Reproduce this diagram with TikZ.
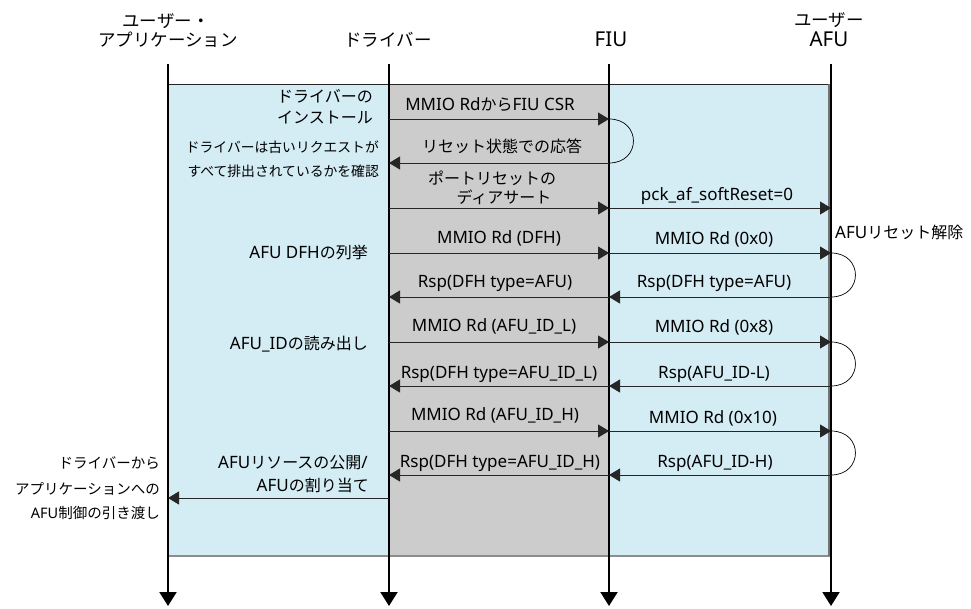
\documentclass[tikz,border=0pt]{standalone}
\usepackage{fontspec}
\setmainfont{Noto Sans}
\newfontfamily\jp{Noto Sans CJK JP}
\newcommand\jpt[1]{{\jp\fontsize{16}{19}\selectfont #1}}
\usetikzlibrary{arrows.meta}
\definecolor{lblue}{HTML}{D4ECF3}
\definecolor{lgray}{HTML}{CCCCCC}
\begin{document}
\begin{tikzpicture}[x=1pt,y=-1pt,
  hdr/.style={font=\fontsize{17.5}{20}\selectfont, anchor=base, inner sep=0},
  lhdr/.style={font=\fontsize{20.5}{23}\selectfont, anchor=base, inner sep=0},
  lbl/.style={font=\fontsize{17}{19}\selectfont, anchor=base, inner sep=0},
  jlbl/.style={font=\jp\fontsize{16}{19}\selectfont, anchor=base, inner sep=0},
  lbll/.style={lbl, anchor=base east},
  jlbll/.style={jlbl, anchor=base east},
  sml/.style={font=\jp\fontsize{13.8}{16}\selectfont, anchor=base east, inner sep=0},
  outl/.style={font=\jp\fontsize{14.5}{17}\selectfont, anchor=base east, inner sep=0},
  msg/.style={draw=black!85, line width=0.9pt, -{Triangle[length=11pt,width=13pt]}},
  life/.style={line width=2pt, -{Triangle[length=14pt,width=17pt]}},
  selfloop/.style={line width=0.7pt, out=0, in=0, looseness=1.9},
]
\useasboundingbox (0,0) rectangle (971,609);
% backgrounds
\fill[lblue] (168,84) rectangle (389,556);
\fill[lgray] (389,84) rectangle (609,556);
\fill[lblue] (609,84) rectangle (830,556);
\draw[line width=0.9pt, black!85] (168,84) -- (830,84);
\draw[line width=1.2pt, black!45] (168,556) -- (830,556);
\draw[line width=1.2pt, black!55] (829,84) -- (829,556);
% headers
\node[hdr] (hU1) at (166,27.5) {\jp ユーザー・};
\node[hdr] (hU2) at (168,46.5) {\jp アプリケーション};
\node[hdr] (hD) at (388,46.5) {\jp ドライバー};
\node[lhdr] (hF) at (611,47) {FIU};
\node[hdr] (hA1) at (829,26.5) {\jp ユーザー};
\node[lhdr] (hA2) at (829,47) {AFU};
% lifeline ends
\coordinate (uT) at (168,64); \coordinate (uB) at (168,606);
\coordinate (dT) at (389,64); \coordinate (dB) at (389,606);
\coordinate (fT) at (609,64); \coordinate (fB) at (609,606);
\coordinate (aT) at (831,64); \coordinate (aB) at (831,606);
\foreach \n/\y in {1/119,2/163,3/208,4/253,5/297,6/342,7/386,8/431,9/475,10/498}{
  \coordinate (u\n) at (168,\y);
  \coordinate (d\n) at (389,\y);
  \coordinate (f\n) at (609,\y);
  \coordinate (a\n) at (831,\y);
}
\draw[life] (uT) -- (uB);
\draw[life] (dT) -- (dB);
\draw[life] (fT) -- (fB);
\draw[life] (aT) -- (aB);
% messages
\draw[msg] (d1) -- (f1);
\draw[msg] (f2) -- (d2);
\draw[msg] (d3) -- (f3);
\draw[msg] (f3) -- (a3);
\draw[msg] (d4) -- (f4);
\draw[msg] (f4) -- (a4);
\draw[msg] (a5) -- (f5);
\draw[msg] (f5) -- (d5);
\draw[msg] (d6) -- (f6);
\draw[msg] (f6) -- (a6);
\draw[msg] (a7) -- (f7);
\draw[msg] (f7) -- (d7);
\draw[msg] (d8) -- (f8);
\draw[msg] (f8) -- (a8);
\draw[msg] (a9) -- (f9);
\draw[msg] (f9) -- (d9);
\draw[msg] (d10) -- (u10);
% self loops
\draw[selfloop] (f1) to (f2);
\draw[selfloop] (a4) to (a5);
\draw[selfloop] (a6) to (a7);
\draw[selfloop] (a8) to (a9);
% message labels
\node[lbl] (t1) at (490,111) {MMIO Rd\jpt{から}FIU CSR};
\node[jlbl] (t2) at (502,153) {リセット状態での応答};
\node[jlbl] (t3a) at (492,185) {ポートリセットの};
\node[jlbl] (t3b) at (504,204) {ディアサート};
\node[lbl] (t3c) at (717,201) {pck\_af\_softReset=0};
\node[lbl] (t4a) at (499,244) {MMIO Rd (DFH)};
\node[lbl] (t4b) at (714,245) {MMIO Rd (0x0)};
\node[lbl] (t5a) at (495,288) {Rsp(DFH type=AFU)};
\node[lbl] (t5b) at (714,288) {Rsp(DFH type=AFU)};
\node[lbl] (t6a) at (494,331) {MMIO Rd (AFU\_ID\_L)};
\node[lbl] (t6b) at (714,333) {MMIO Rd (0x8)};
\node[lbl] (t7a) at (499,378) {Rsp(DFH type=AFU\_ID\_L)};
\node[lbl] (t7b) at (714,378) {Rsp(AFU\_ID-L)};
\node[lbl] (t8a) at (495,420) {MMIO Rd (AFU\_ID\_H)};
\node[lbl] (t8b) at (713,423) {MMIO Rd (0x10)};
\node[lbl] (t9a) at (500,467) {Rsp(DFH type=AFU\_ID\_H)};
\node[lbl] (t9b) at (715,467) {Rsp(AFU\_ID-H)};
% side labels
\node[jlbll] (s1a) at (373,103) {ドライバーの};
\node[jlbll] (s1b) at (373,124) {インストール};
\node[sml] (s2a) at (379,153) {ドライバーは古いリクエストが};
\node[sml] (s2b) at (379,177) {すべて排出されているかを確認};
\node[lbll] (s3) at (368,259) {AFU DFH\jpt{の列挙}};
\node[lbll] (s4) at (368,349) {AFU\_ID\jpt{の読み出し}};
\node[lbll] (s5a) at (368,468) {AFU\jpt{リソースの公開}/};
\node[lbll] (s5b) at (369,491) {AFU\jpt{の割り当て}};
\node[outl] (o1) at (160,468.5) {ドライバーから};
\node[outl] (o2) at (160,494.5) {アプリケーションへの};
\node[outl] (o3) at (160,518.5) {{\rmfamily AFU}制御の引き渡し};
\node[lbl, anchor=base west] (r1) at (835,239) {AFU\jpt{リセット解除}};
\end{tikzpicture}
\end{document}
